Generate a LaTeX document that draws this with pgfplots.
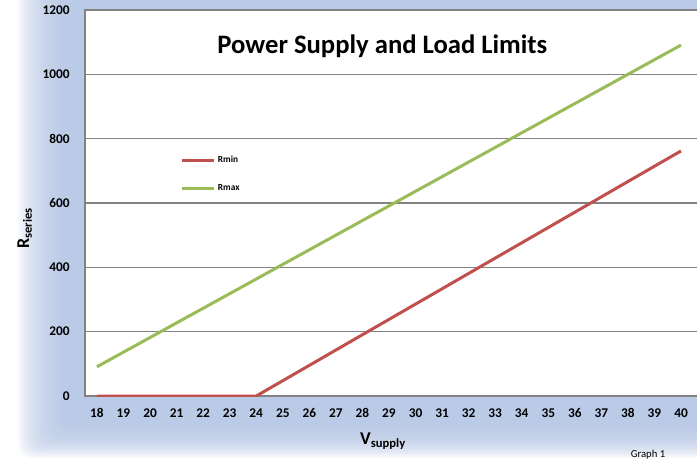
\documentclass[border=0pt]{standalone}
\usepackage{pgfplots}
\pgfplotsset{compat=1.18}
\usepackage{fontspec}
\setmainfont{Carlito}
\definecolor{bgblue}{RGB}{186,203,232}
\definecolor{rred}{RGB}{192,80,77}
\definecolor{rgreen}{RGB}{155,187,89}
\definecolor{gridgray}{RGB}{130,130,130}

\begin{document}
\begin{tikzpicture}[x=0.75pt,y=0.75pt]
\useasboundingbox (0,0) rectangle (697,462);
\begin{scope}
\clip (0,0) rectangle (697,462);
\fill[white] (0,0) rectangle (697,462);
\foreach \i in {0,...,29} {
  \fill[bgblue, opacity=0.085, rounded corners=10pt] (18+\i*1.9, 4+\i*1.3) rectangle (760, 520);
}
\begin{axis}[
  at={(63.75pt,49.5pt)}, anchor=south west,
  scale only axis,
  width=460.95pt, height=289.5pt,
  xmin=17.55, xmax=40.7,
  ymin=0, ymax=1200,
  xtick={18,19,...,40},
  ytick={0,200,...,1200},
  ymajorgrids,
  grid style={gridgray, line width=1pt},
  axis line style={gridgray, line width=1pt},
  axis background/.style={fill=white},
  major tick length=0pt,
  /pgf/number format/assume math mode=true,
  /pgf/number format/1000 sep={},
  ticklabel style={font=\bfseries\fontsize{10}{11}\selectfont},
  yticklabel style={xshift=-8pt},
  xticklabel style={yshift=-5pt, text height=1.6ex, text depth=0pt},
  every axis y label/.style={at={(rel axis cs:-0.098,0.435)}, rotate=90, anchor=center},
  every axis x label/.style={at={(rel axis cs:0.485,-0.1166)}, anchor=center},
  ylabel={\bfseries\fontsize{13.5}{14}\selectfont R\textsubscript{series}},
  xlabel={\bfseries\fontsize{13.5}{14}\selectfont V\textsubscript{supply}},
  legend style={at={(rel axis cs:0.1546,0.63)}, anchor=north west, draw=none, fill=none,
    inner sep=0pt, font=\bfseries\fontsize{7}{8}\selectfont, row sep=11pt,
    legend cell align=left},
  legend image code/.code={\draw[#1, line width=2.25pt] (0pt,0pt) -- (24pt,0pt);},
]
\addplot[rred, line width=2.25pt] coordinates {
(18,0) (19,0) (20,0) (21,0) (22,0) (23,0) (24,0)
(25,47.6) (26,95.2) (27,142.9) (28,190.5) (29,238.1) (30,285.7) (31,333.3)
(32,381.0) (33,428.6) (34,476.2) (35,523.8) (36,571.4) (37,619.0) (38,666.7)
(39,714.3) (40,761.9)};
\addlegendentry{Rmin}
\addplot[rgreen, line width=2.25pt] coordinates {
(18,90.9) (19,136.4) (20,181.8) (21,227.3) (22,272.7) (23,318.2) (24,363.6)
(25,409.1) (26,454.5) (27,500.0) (28,545.5) (29,590.9) (30,636.4) (31,681.8)
(32,727.3) (33,772.7) (34,818.2) (35,863.6) (36,909.1) (37,954.5) (38,1000.0)
(39,1045.5) (40,1090.9)};
\addlegendentry{Rmax}
\node[font=\bfseries\fontsize{20}{24}\selectfont] at (axis cs:28.75,1088) {Power Supply and Load Limits};
\end{axis}
\node[anchor=base, font=\fontsize{8}{9}\selectfont] at (648,5) {Graph 1};
\end{scope}
\end{tikzpicture}
\end{document}
